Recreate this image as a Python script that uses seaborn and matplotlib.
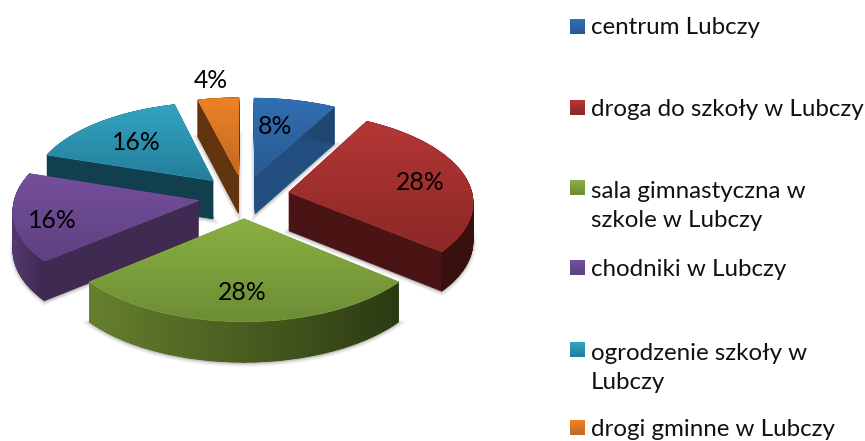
import numpy as np
import matplotlib
matplotlib.use("Agg")
import matplotlib.pyplot as plt
import matplotlib.transforms as mtransforms
from matplotlib.collections import PolyCollection
from matplotlib.colors import to_rgb
from matplotlib.patches import Rectangle
import seaborn as sns

# data
categories = ["centrum Lubczy", "droga do szkoły w Lubczy", "sala gimnastyczna w\nszkole w Lubczy",
              "chodniki w Lubczy", "ogrodzenie szkoły w\nLubczy", "drogi gminne w Lubczy"]
values = [8, 28, 28, 16, 16, 4]

# styles
TOP_LIGHT = ["#3170B4", "#B53735", "#8AB041", "#75509C", "#33A5C3", "#F08226"]
TOP_DARK = ["#28598F", "#8A2826", "#6C8C36", "#5E4080", "#247C98", "#BE6A24"]
WALL = ["#234F80", "#4B1414", "#4F6626", "#3F2A52", "#123F4E", "#623410"]
RIM_LEFT = ["#234F80", "#3A0F0F", "#66802E", "#54396E", "#123F4E", "#623410"]
RIM_RIGHT = ["#1E4570", "#3A0F0F", "#2C3A12", "#3F2A52", "#123F4E", "#623410"]
DRAW_ORDER = [1, 3, 4, 3, 2, 0]
LABEL_POS = [(275, 127), (420, 182), (242, 293), (52, 221), (136, 142), (211, 81)]
LEGEND_Y = [27, 108, 188, 268, 350, 428]
LEGEND_TEXT_Y = [28, 109, 206, 269, 368, 430]

# projection of the pie plane onto the picture (pixels)
CX, CY, A, B, K, DEPTH = 244.0, 196.4, 183.6, 88.3, 0.095, 38.5


def project(u, v, z=0.0):
    w = 1 + K * np.asarray(v)
    return CX + A * np.asarray(u) / w, CY - B * np.asarray(v) / w + DEPTH * z * (1 - 0.04 * np.asarray(v))


class Tilt(mtransforms.Transform):
    input_dims = output_dims = 2
    is_separable = False
    has_inverse = False

    def __init__(self, z=0.0):
        super().__init__()
        self.z = z

    def transform_non_affine(self, xy):
        xy = np.asarray(xy, dtype=float)
        return np.column_stack(project(xy[:, 0], xy[:, 1], self.z))


sns.set_theme(style="white")
plt.rcParams["font.family"] = ["Lato", "DejaVu Sans"]

fig = plt.figure(figsize=(8.65, 4.41), dpi=100)
ax = fig.add_axes([0, 0, 1, 1])
explode = [0.25] * len(values)


def pie_layer(colors, z, zoffset=0.1, lw=0.6, alpha=None, **kw):
    res = ax.pie(values, explode=explode, startangle=90, counterclock=False, colors=colors,
                 wedgeprops=dict(linewidth=lw, alpha=alpha), **kw)
    for i, w in enumerate(res[0]):
        w.set_transform(Tilt(z) + ax.transData)
        w.set_edgecolor(w.get_facecolor())
        w.set_zorder(1 + DRAW_ORDER[i] + zoffset)
    return res


# soft shadow under the solids
for lw, a in [(5, 0.10), (3, 0.14), (1.5, 0.18)]:
    r = pie_layer(["#808080"] * 6, 1.03, lw=lw, alpha=a)
    for w in r[0]:
        w.set_zorder(0.5)

# body
for z in np.linspace(1, 0, 40):
    pie_layer(sns.color_palette(WALL), float(z))

# top faces
wedges, _, autotexts = pie_layer(sns.color_palette(TOP_LIGHT), 0.0, zoffset=0.3, autopct="%.0f%%")

ax.set_aspect("auto")
ax.set_xlim(0, 865)
ax.set_ylim(441, 0)
ax.set_autoscale_on(False)
ax.set_axis_off()


def gradient(c1, c2):
    t = np.linspace(0, 1, 64)[:, None]
    return np.asarray(to_rgb(c1))[None, :] * (1 - t) + np.asarray(to_rgb(c2))[None, :] * t


for i, w in enumerate(wedges):
    th = np.radians(np.linspace(w.theta1, w.theta2, 80))
    u = w.center[0] + w.r * np.cos(th)
    v = w.center[1] + w.r * np.sin(th)
    # outer rim
    x0, y0 = project(u, v, 0.0)
    x1, y1 = project(u, v, 1.0)
    polys, cols = [], []
    xmin, xmax = x0.min(), x0.max()
    for k in range(len(th) - 1):
        polys.append([(x0[k], y0[k]), (x0[k + 1], y0[k + 1]), (x1[k + 1], y1[k + 1]), (x1[k], y1[k])])
        f = (0.5 * (x0[k] + x0[k + 1]) - xmin) / max(xmax - xmin, 1)
        cols.append(np.asarray(to_rgb(RIM_LEFT[i])) * (1 - f) + np.asarray(to_rgb(RIM_RIGHT[i])) * f)
    ax.add_collection(PolyCollection(polys, facecolors=cols, edgecolors=cols, linewidths=0.5,
                                     zorder=1 + DRAW_ORDER[i] + 0.2), autolim=False)
    # shaded top
    xs, ys = project(np.r_[u, w.center[0]], np.r_[v, w.center[1]], 0.0)
    im = ax.imshow(gradient(TOP_LIGHT[i], TOP_DARK[i])[:, None, :], origin="upper", aspect="auto",
                   extent=(xs.min() - 2, xs.max() + 2, ys.max() + 2, ys.min() - 2),
                   interpolation="bilinear", zorder=1 + DRAW_ORDER[i] + 0.4)
    im.set_clip_path(w)

for t, pos in zip(autotexts, LABEL_POS):
    t.set_position(pos)
    t.set_fontsize(17.8)
    t.set_color("black")
    t.set_ha("center")
    t.set_va("center")
    t.set_zorder(20)

# legend
for i, name in enumerate(categories):
    y = LEGEND_Y[i]
    ax.add_patch(Rectangle((570, y - 8), 15, 15, facecolor=TOP_DARK[i], edgecolor="none", zorder=5))
    ax.imshow(gradient(TOP_LIGHT[i], TOP_DARK[i])[:, None, :], origin="upper", aspect="auto",
              extent=(570, 585, y + 7, y - 8), zorder=6)
    ax.text(591, LEGEND_TEXT_Y[i], name, fontsize=17.4, color="#111111", ha="left", va="center",
            linespacing=1.48, zorder=20)

fig.savefig("out.png", dpi=100, facecolor="white")
